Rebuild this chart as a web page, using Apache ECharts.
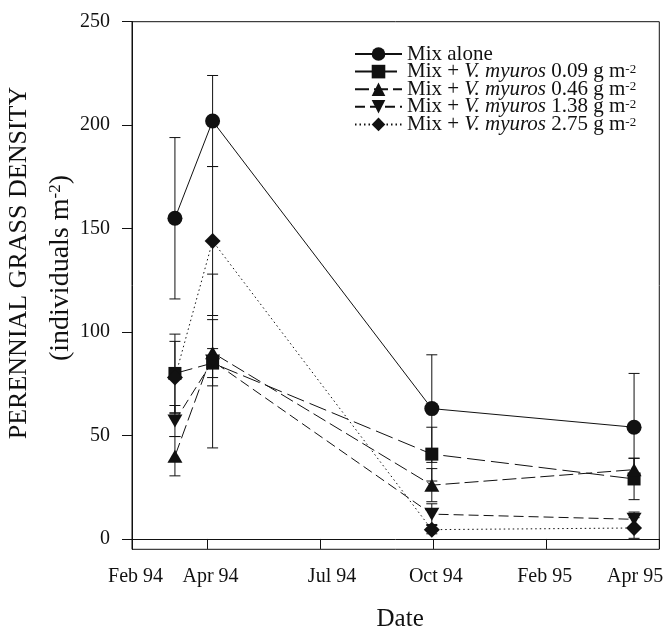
<!DOCTYPE html>
<html>
<head>
<meta charset="utf-8">
<script src="https://cdn.jsdelivr.net/npm/echarts@6/dist/echarts.min.js"></script>
<style>
  html, body { margin: 0; padding: 0; background: #fff; }
  #chart { width: 665px; height: 631px; }
</style>
</head>
<body>
<div id="chart"></div>
<script>
// ---- data (x measured in months since Jan 1994 on the original's axis) ----
const sampleX = [3.14, 4.14, 9.96, 15.33];

const seriesNames = [
  'Mix alone',
  'Mix + V. myuros 0.09 g m-2',
  'Mix + V. myuros 0.46 g m-2',
  'Mix + V. myuros 1.38 g m-2',
  'Mix + V. myuros 2.75 g m-2'
];

const mixAlone   = [155, 202, 63, 54];
const mixAloneSE = [39, 22, 26, 26];
const vm009      = [80, 85, 41, 29];
const vm009SE    = [19, 7, 13, 10];
const vm046      = [40, 90, 26, 33.5];
const vm046SE    = [9.5, 16, 8, 5.5];
const vm138      = [57, 86, 12, 9.5];
const vm138SE    = [7.5, 42, 5, 3.5];
const vm275      = [78, 144, 4.5, 5.3];
const vm275SE    = [17.5, 36, 2, 5];

const xTickValues  = [4, 7, 10, 13, 16];
const xLabelTexts  = ['Feb 94', 'Apr 94', 'Jul 94', 'Oct 94', 'Feb 95', 'Apr 95'];
const xLabelValues = [2.093, 4.084, 7.311, 10.067, 12.958, 15.357];
const yTickValues  = [0, 50, 100, 150, 200, 250];

// ---- styles ----
const serif = '"Liberation Serif", "Times New Roman", serif';
const ink = '#111';
const values = [mixAlone, vm009, vm046, vm138, vm275];
const errors = [mixAloneSE, vm009SE, vm046SE, vm138SE, vm275SE];
const symbols = ['circle', 'rect', 'triangle', 'path://M0,0L20,0L10,17Z', 'diamond'];
const symbolSizes = [15, 13, [15, 13], [15, 13], 16];
const dashes = ['solid', [18, 6], [14, 5], [10, 5], [1.5, 3]];

function errRender(params, api) {
  const x = api.value(0);
  const pLo = api.coord([x, api.value(1)]);
  const pHi = api.coord([x, api.value(2)]);
  const hw = 5.5;
  const st = { stroke: ink, lineWidth: 1 };
  return {
    type: 'group',
    children: [
      { type: 'line', shape: { x1: pHi[0], y1: pHi[1], x2: pLo[0], y2: pLo[1] }, style: st },
      { type: 'line', shape: { x1: pHi[0] - hw, y1: pHi[1], x2: pHi[0] + hw, y2: pHi[1] }, style: st },
      { type: 'line', shape: { x1: pLo[0] - hw, y1: pLo[1], x2: pLo[0] + hw, y2: pLo[1] }, style: st }
    ]
  };
}

const series = [];
values.forEach(function (vals, k) {
  series.push({
    name: 'err' + k,
    type: 'custom',
    renderItem: errRender,
    encode: { x: 0, y: [1, 2] },
    z: 1,
    silent: true,
    data: vals.map(function (v, i) { return [sampleX[i], v - errors[k][i], v + errors[k][i]]; })
  });
});
values.forEach(function (vals, k) {
  series.push({
    name: seriesNames[k],
    type: 'line',
    z: 2 + k,
    symbol: symbols[k],
    symbolSize: symbolSizes[k],
    showAllSymbol: true,
    lineStyle: { color: ink, width: 1, type: dashes[k] },
    itemStyle: { color: ink, borderWidth: 0 },
    emphasis: { disabled: true },
    animation: false,
    data: vals.map(function (v, i) { return [sampleX[i], v]; })
  });
});

function legendRich(name) {
  if (name === 'Mix alone') return '{n|Mix alone}';
  const m = name.match(/^Mix \+ V\. myuros ([\d.]+) g m-2$/);
  return '{n|Mix + }{i|V. myuros}{n| ' + m[1] + ' g m}{s|-2}';
}

const chart = echarts.init(document.getElementById('chart'), null, { renderer: 'canvas' });
chart.setOption({
  animation: false,
  backgroundColor: '#fff',
  grid: {
    left: 132, top: 21.7, right: 5.7, bottom: 81.7,
    outerBoundsMode: 'none',
    containLabel: false,
    show: true, borderColor: ink, borderWidth: 1, backgroundColor: 'transparent'
  },
  legend: {
    data: seriesNames,
    orient: 'vertical',
    left: 354,
    top: 43.5,
    padding: 0,
    itemGap: -3.4,
    itemWidth: 47,
    itemHeight: 17,
    selectedMode: false,
    formatter: legendRich,
    textStyle: {
      color: ink,
      fontFamily: serif,
      fontSize: 21,
      lineHeight: 17.6,
      rich: {
        n: { fontFamily: serif, fontSize: 21, color: ink, lineHeight: 17.6 },
        i: { fontFamily: serif, fontSize: 21, fontStyle: 'italic', color: ink, lineHeight: 17.6 },
        s: { fontFamily: serif, fontSize: 13, color: ink, lineHeight: 17.6, verticalAlign: 'top' }
      }
    }
  },
  xAxis: {
    type: 'value',
    min: 2,
    max: 16,
    name: 'Date',
    nameLocation: 'middle',
    nameGap: 58,
    nameTextStyle: { fontFamily: serif, fontSize: 25, color: ink, padding: [0, 0, 0, 9] },
    axisLine: { show: true, lineStyle: { color: ink, width: 1 } },
    axisTick: { show: true, inside: false, length: 10, customValues: xTickValues, lineStyle: { color: ink } },
    axisLabel: {
      customValues: xLabelValues,
      margin: 17,
      fontFamily: serif,
      fontSize: 20,
      color: ink,
      formatter: function (v) {
        let best = 0;
        xLabelValues.forEach(function (p, i) { if (Math.abs(p - v) < Math.abs(xLabelValues[best] - v)) best = i; });
        return xLabelTexts[best];
      }
    },
    splitLine: { show: false }
  },
  yAxis: {
    type: 'value',
    min: -5,
    max: 250,
    axisLine: { show: true, lineStyle: { color: ink, width: 1 } },
    axisTick: { show: true, inside: false, length: 10, customValues: yTickValues, lineStyle: { color: ink } },
    axisLabel: { customValues: yTickValues, margin: 22, fontFamily: serif, fontSize: 20, color: ink },
    splitLine: { show: false }
  },
  graphic: [
    {
      type: 'text',
      x: 19.5,
      y: 263,
      rotation: Math.PI / 2,
      style: {
        text: 'PERENNIAL GRASS DENSITY',
        fontFamily: serif,
        fontSize: 26,
        fill: ink,
        align: 'center',
        verticalAlign: 'middle'
      }
    },
    {
      type: 'text',
      x: 61,
      y: 268,
      rotation: Math.PI / 2,
      style: {
        text: '{n|(individuals m}{s|-2}{n|)}',
        fontFamily: serif,
        fontSize: 28,
        fill: ink,
        align: 'center',
        verticalAlign: 'middle',
        rich: {
          n: { fontFamily: serif, fontSize: 28, fill: ink, lineHeight: 28 },
          s: { fontFamily: serif, fontSize: 17, fill: ink, lineHeight: 28, verticalAlign: 'top' }
        }
      }
    }
  ],
  series: series
});
</script>
</body>
</html>
